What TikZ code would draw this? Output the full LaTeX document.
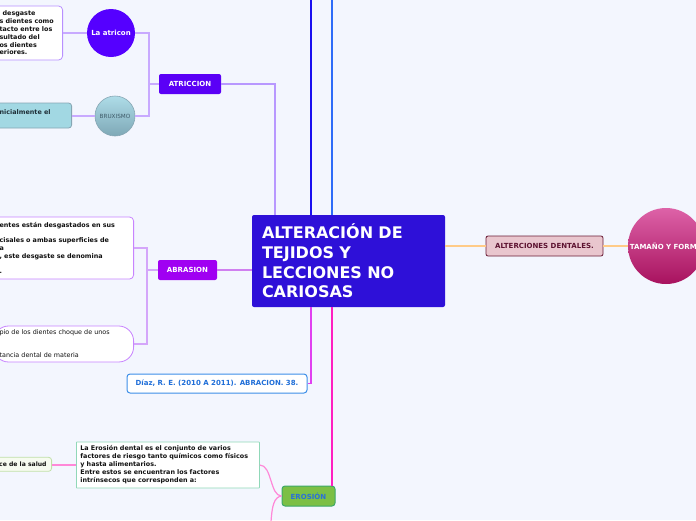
\documentclass[tikz,border=0pt]{standalone}
\usepackage{fontspec}
\setmainfont{DejaVu Sans}
\definecolor{bgc}{HTML}{F3F6FE}
\definecolor{cblue}{HTML}{2E10D8}
\definecolor{topbA}{HTML}{1A10F0}
\definecolor{topbB}{HTML}{2E6CF8}
\definecolor{altf}{HTML}{E9C6CE}
\definecolor{altd}{HTML}{6A1C36}
\definecolor{altt}{HTML}{5C1230}
\definecolor{orc}{HTML}{FFCB88}
\definecolor{tamt}{HTML}{DD62A8}
\definecolor{tamb}{HTML}{A8125E}
\definecolor{atrc}{HTML}{5A00F6}
\definecolor{latr}{HTML}{5500FF}
\definecolor{purpA}{HTML}{B898FF}
\definecolor{purpB}{HTML}{C8AAFF}
\definecolor{bruxt}{HTML}{AEDCE8}
\definecolor{bruxb}{HTML}{7EA8B6}
\definecolor{bruxd}{HTML}{86A6B4}
\definecolor{bruxtx}{HTML}{3E5A68}
\definecolor{bruxbox}{HTML}{A2D8E3}
\definecolor{bruxboxt}{HTML}{1F2F38}
\definecolor{lavd}{HTML}{B890FF}
\definecolor{abrc}{HTML}{A000F2}
\definecolor{abrconn}{HTML}{D080F0}
\definecolor{abrbr}{HTML}{D4A6FA}
\definecolor{abrd}{HTML}{C884FF}
\definecolor{diazd}{HTML}{3C8EE8}
\definecolor{diazt}{HTML}{1F6ED8}
\definecolor{diazc}{HTML}{E040F0}
\definecolor{eroc}{HTML}{FF1FC0}
\definecolor{erog}{HTML}{7CBF45}
\definecolor{erod}{HTML}{3CA868}
\definecolor{erot}{HTML}{2A70D8}
\definecolor{erocurve}{HTML}{FF88D8}
\definecolor{erobd}{HTML}{90D8B8}
\definecolor{saludf}{HTML}{F6FBF0}
\definecolor{saludd}{HTML}{C0E0A8}
\definecolor{txtdark}{HTML}{111111}
\newcommand\mfbig{\fontsize{16}{19.7}\selectfont\bfseries}
\newcommand\mflab{\fontsize{7}{8}\selectfont\bfseries}
\newcommand\mfsmall{\fontsize{6.4}{7.8}\selectfont\bfseries}
\newcommand\mfsmallreg{\fontsize{6.4}{7.7}\selectfont}
\begin{document}
\begin{tikzpicture}[x=1pt,y=-1pt,
  central/.style={fill=cblue, rounded corners=2pt, minimum width=193pt, minimum height=92pt,
    text width=173pt, inner xsep=10pt, inner ysep=0pt, align=left, text=white, font=\mfbig},
  lab/.style={rounded corners=2pt, text=white, font=\mflab, inner sep=0pt},
  txtbox/.style={fill=white, align=left, font=\mfsmall, inner ysep=0pt, text=txtdark, line width=0.8pt},
  conn/.style={line width=1.2pt},
  mainconn/.style={line width=2pt}
]
\fill[bgc] (0,0) rectangle (696,520);
\useasboundingbox (0,0) rectangle (696,520);

% central
\node[central] (c) at (348.5,261) {ALTERACIÓN DE\\TEJIDOS Y\\LECCIONES NO\\CARIOSAS};

% top connectors
\coordinate (t1) at (311,0);
\coordinate (t2) at (332,0);
\draw[mainconn, topbA] (t1) -- (t1 |- c.north);
\draw[mainconn, topbB] (t2) -- (t2 |- c.north);

% right branch
\node[lab, fill=altf, draw=altd, text=altt, line width=0.8pt, minimum width=117pt, minimum height=20pt] (alt) at (544.5,246) {ALTERCIONES DENTALES.};
\node[circle, top color=tamt, bottom color=tamb, minimum size=76pt, inner sep=0pt, text=white, font=\mflab] (tam) at (666,246) {TAMAÑO Y FORMA};
\draw[conn, orc] (alt.west -| c.east) -- (alt.west);
\draw[conn, orc] (alt.east) -- (tam.west);

% ATRICCION
\node[lab, fill=atrc, minimum width=62pt, minimum height=20pt] (atr) at (190,84) {ATRICCION};
\node[circle, fill=latr, minimum size=48pt, inner sep=0pt, text=white, font=\mflab] (lat) at (111,33) {La atricon};
\node[circle, draw=bruxd, line width=0.6pt, top color=bruxt, bottom color=bruxb, minimum size=40pt, inner sep=0pt, text=bruxtx, font=\fontsize{5.7}{7}\selectfont] (brx) at (115,116) {BRUXISMO};
\node[txtbox, draw=lavd, anchor=east, text width=57pt, inner xsep=6pt, minimum height=54pt, rounded corners=4pt] (latx) at (63,33)
  {\hspace*{3pt}desgaste\\s dientes como\\tacto entre los\\sultado del\\os dientes\\eriores.};
\node[txtbox, fill=bruxbox, draw=bruxd, text=bruxboxt, anchor=east, inner xsep=21pt, minimum height=25pt, rounded corners=3pt] (brxt) at (72,115.5)
  {nicialmente el\\\mbox{}};
\coordinate (atrk) at (275,84);
\coordinate (atrb) at (149,84);
\draw[conn, purpA] (atr.east) -- (atrk) -- (atrk |- c.north);
\draw[conn, purpB] (atr.west) -- (atrb);
\draw[conn, purpB] (lat.east) -| (atrb);
\draw[conn, purpB] (brx.east) -| (atrb);
\draw[conn, purpB] (lat.west) -- (latx.east);
\draw[conn, purpB] (brx.west) -- (brx.west -| brxt.east);

% ABRASION
\node[lab, fill=abrc, minimum width=59pt, minimum height=20pt] (abr) at (187.5,270) {ABRASION};
\node[txtbox, draw=abrd, anchor=east, text width=128pt, inner xsep=6pt, minimum height=62pt, rounded corners=4pt] (ab1) at (134,248)
  {entes están desgastados en sus\\[7.8pt]cisales o ambas superficies de\\a\\, este desgaste se denomina\\[7.8pt].};
\node[txtbox, draw=abrd, anchor=east, text width=128pt, inner xsep=6pt, minimum height=36pt, rounded corners=15pt, font=\mfsmallreg] (ab2) at (134,344)
  {pio de los dientes choque de unos\\[15.4pt]tancia dental de materia};
\coordinate (abrb) at (147,270);
\draw[conn, abrconn] (abr.east -| c.west) -- (abr.east);
\draw[conn, abrbr] (abr.west) -- (abrb);
\draw[conn, abrbr] (ab1.east) -| (abrb);
\draw[conn, abrbr] (ab2.east) -| (abrb);

% Diaz
\node[lab, fill=white, draw=diazd, text=diazt, line width=1pt, minimum width=180pt, minimum height=19pt, rounded corners=3pt] (dz) at (217,383.5) {Díaz, R. E. (2010 A 2011). ABRACION. 38.};
\coordinate (dzk) at (311,383.5);
\draw[conn, diazc] (dzk |- c.south) -- (dzk) -- (dz.east);

% EROSION
\node[lab, fill=erog, draw=erod, text=erot, line width=1pt, minimum width=53pt, minimum height=20pt, rounded corners=3pt] (ero) at (308.5,496) {EROSIÓN};
\coordinate (erk) at (332,486);
\draw[mainconn, eroc] (erk |- c.south) -- (erk);
\node[txtbox, draw=erobd, anchor=west, text width=175pt, inner xsep=4pt, minimum height=46pt, rounded corners=0.5pt, font=\fontsize{6.4}{8}\selectfont\bfseries] (erx) at (76,465)
  {La Erosión dental es el conjunto de varios\\factores de riesgo tanto químicos como físicos\\y hasta alimentarios.\\Entre estos se encuentran los factores\\intrínsecos que corresponden a:};
\node[txtbox, fill=saludf, draw=saludd, anchor=east, inner xsep=5pt, minimum height=14pt, rounded corners=3pt, font=\fontsize{6.1}{7.5}\selectfont\bfseries] (sal) at (52,464.3) {ce de la salud};
\coordinate (erd) at (271,522);
\draw[conn, erocurve] (ero.west) .. controls (270,496) and (272,465) .. (erx.east);
\draw[conn, erocurve] (ero.west) .. controls (274,497) and (272,506) .. (erd);
\draw[conn, erocurve] (erx.west) -- (erx.west -| sal.east);
\end{tikzpicture}
\end{document}
